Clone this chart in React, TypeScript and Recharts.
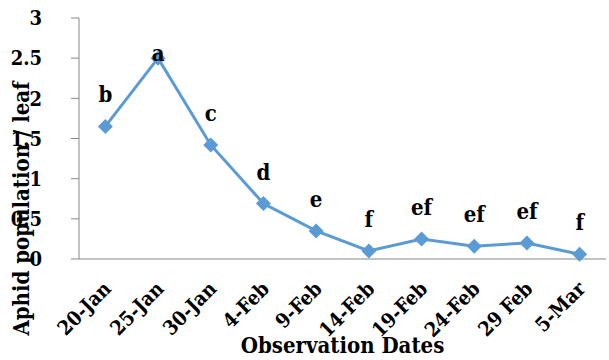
import { LineChart, Line, XAxis, YAxis, LabelList, Label } from "recharts";

const dates = [
  "20-Jan",
  "25-Jan",
  "30-Jan",
  "4-Feb",
  "9-Feb",
  "14-Feb",
  "19-Feb",
  "24-Feb",
  "29 Feb",
  "5-Mar",
];
const aphids = [1.65, 2.5, 1.42, 0.69, 0.35, 0.1, 0.25, 0.16, 0.2, 0.06];
const groups = ["b", "a", "c", "d", "e", "f", "ef", "ef", "ef", "f"];
const yTicks = [0, 0.5, 1, 1.5, 2, 2.5, 3];

const data = dates.map((date, i) => ({ date, slot: i + 0.5, aphids: aphids[i], group: groups[i] }));
const bounds = [...dates.map((_, i) => i), dates.length];

const FONT = "DejaVu Serif Condensed, DejaVu Serif, serif";
const AXIS = "#878787";
const BLUE = "#5B9BD5";
const peak = Math.max(...aphids);
const txt = { fontFamily: FONT, fontStretch: "condensed", fontWeight: "bold", fontSize: 22, fill: "#000" } as const;
const tickTxt = { ...txt, fontSize: 20 };

function Diamond(props: any) {
  const { cx, cy } = props;
  if (cx == null || cy == null) return null;
  const r = 7.5;
  return (
    <polygon
      points={`${cx},${cy - r} ${cx + r},${cy} ${cx},${cy + r} ${cx - r},${cy}`}
      fill={BLUE}
    />
  );
}

function DateTick(props: any) {
  const { x, y, payload } = props;
  return (
    <g transform={`translate(${x + 7},${y + 22})`}>
      <text transform="rotate(-45)" textAnchor="end" style={tickTxt}>
        {payload.value}
      </text>
    </g>
  );
}

function ValueTick(props: any) {
  const { x, y, payload } = props;
  return (
    <text x={x - 15} y={y} dy="0.36em" textAnchor="end" style={tickTxt}>
      {payload.value}
    </text>
  );
}

function GroupLabel(props: any) {
  const { x, y, value, index } = props;
  const onPoint = aphids[index] === peak;
  return (
    <text x={x} y={onPoint ? y + 3 : y - 24} textAnchor="middle" style={txt}>
      {value}
    </text>
  );
}

export default function App() {
  return (
    <div style={{ position: "absolute", left: 0, top: 0, width: 609, height: 360, background: "#fff" }}>
      <LineChart width={609} height={360} data={data} margin={{ top: 18, right: 3, left: 0, bottom: 0 }}>
        <XAxis
          xAxisId="base"
          dataKey="slot"
          type="number"
          domain={[0, dates.length]}
          ticks={bounds}
          allowDataOverflow
          tick={false}
          tickSize={8}
          height={1}
          stroke={AXIS}
        />
        <XAxis
          xAxisId="cat"
          dataKey="date"
          scale="band"
          interval={0}
          tickLine={false}
          axisLine={false}
          height={100}
          tick={<DateTick />}
        >
          <Label
            content={(p: any) => {
              const vb = p.viewBox;
              return (
                <text x={vb.x + vb.width / 2} y={vb.y + 93} textAnchor="middle" style={txt}>
                  Observation Dates
                </text>
              );
            }}
          />
        </XAxis>
        <YAxis
          domain={[0, 3]}
          ticks={yTicks}
          width={79}
          stroke={AXIS}
          tickSize={8}
          tickMargin={14}
          tick={<ValueTick />}
        >
          <Label
            content={(p: any) => {
              const vb = p.viewBox;
              const cx = vb.x + 29;
              const cy = vb.y + vb.height / 2 + 70;
              return (
                <text x={cx} y={cy} transform={`rotate(-90,${cx},${cy})`} textAnchor="middle" style={txt}>
                  Aphid population / leaf
                </text>
              );
            }}
          />
        </YAxis>
        <Line
          xAxisId="base"
          dataKey="aphids"
          stroke={BLUE}
          strokeWidth={3}
          dot={<Diamond />}
          activeDot={false}
          isAnimationActive={false}
        >
          <LabelList dataKey="group" content={<GroupLabel />} />
        </Line>
      </LineChart>
    </div>
  );
}
